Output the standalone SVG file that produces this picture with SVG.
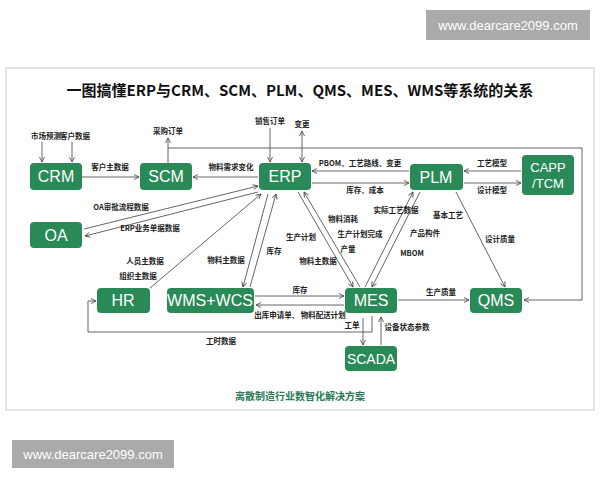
<svg xmlns="http://www.w3.org/2000/svg" width="600" height="480" viewBox="0 0 600 480">
<defs>
<marker id="a" viewBox="0 0 10 10" refX="9" refY="5" markerWidth="7" markerHeight="7" orient="auto-start-reverse"><path d="M1,1 L9,5 L1,9" fill="none" stroke="#444" stroke-width="1.3"/></marker>
<style>
.n rect{fill:#2a8a57}
.n text{fill:#fff;font-family:"Liberation Sans",Arial,sans-serif;font-size:16px;text-anchor:middle}
.c path,.c line{stroke:#555;stroke-width:0.9;fill:none}
.ar{marker-end:url(#a)}
.bi{marker-end:url(#a);marker-start:url(#a)}
.l{font-family:"Noto Sans CJK SC","Liberation Sans",sans-serif;font-size:7.5px;fill:#222;text-anchor:middle;font-weight:bold}
</style>
</defs>
<rect width="600" height="480" fill="#fff"/>
<rect x="426" y="10" width="164" height="30" fill="#aaa"/>
<text x="508" y="30" font-family="Liberation Sans,sans-serif" font-size="13" fill="#fff" text-anchor="middle">www.dearcare2099.com</text>
<rect x="6" y="68" width="588" height="342" fill="#fff" stroke="#ccc"/>
<text x="300" y="96" font-family="Noto Sans CJK SC,sans-serif" font-size="15" font-weight="bold" text-anchor="middle" fill="#111">一图搞懂ERP与CRM、SCM、PLM、QMS、MES、WMS等系统的关系</text>
<text x="300" y="400" font-family="Noto Sans CJK SC,sans-serif" font-size="10" font-weight="bold" text-anchor="middle" fill="#2a7a55">离散制造行业数智化解决方案</text>
<rect x="12" y="440" width="162" height="28" fill="#aaa"/>
<text x="93" y="459" font-family="Liberation Sans,sans-serif" font-size="13" fill="#fff" text-anchor="middle">www.dearcare2099.com</text>

<g class="c">
<line class="ar" x1="42" y1="142" x2="42" y2="162"/>
<line class="ar" x1="72" y1="142" x2="72" y2="162"/>
<line class="ar" x1="82" y1="177" x2="139" y2="177"/>
<line class="ar" x1="168" y1="163" x2="168" y2="138"/>
<line class="ar" x1="258" y1="177" x2="193" y2="177"/>
<line class="ar" x1="270" y1="128" x2="270" y2="162"/>
<line class="bi" x1="302" y1="131" x2="302" y2="162"/>
<path class="ar" d="M168,148 H582 V300 H524"/>
<line class="ar" x1="409" y1="171" x2="312" y2="171"/>
<line class="ar" x1="312" y1="183" x2="409" y2="183"/>
<line class="ar" x1="521" y1="171" x2="464" y2="171"/>
<line class="ar" x1="464" y1="183" x2="521" y2="183"/>
<line class="ar" x1="84" y1="229" x2="258" y2="186"/>
<line class="ar" x1="258" y1="192" x2="85" y2="236"/>
<line class="ar" x1="150" y1="288" x2="261" y2="194"/>
<line class="ar" x1="250" y1="287" x2="276" y2="194"/>
<line class="ar" x1="268" y1="194" x2="243" y2="287"/>
<line class="ar" x1="298" y1="192" x2="353" y2="287"/>
<line class="ar" x1="360" y1="287" x2="304" y2="192"/>
<line class="ar" x1="365" y1="287" x2="413" y2="192"/>
<line class="ar" x1="420" y1="192" x2="372" y2="287"/>
<line class="ar" x1="456" y1="192" x2="505" y2="287"/>
<line class="ar" x1="255" y1="296" x2="344" y2="296"/>
<line class="ar" x1="344" y1="305" x2="256" y2="305"/>
<line class="ar" x1="398" y1="300" x2="469" y2="300"/>
<line class="ar" x1="363" y1="318" x2="363" y2="345"/>
<line class="ar" x1="381" y1="345" x2="381" y2="317"/>
<path class="ar" d="M372,316 V332 H88 V301 H96"/>
</g>

<g class="labels">
<text class="l" x="46" y="139">市场预测</text>
<text class="l" x="75" y="139">客户数据</text>
<text class="l" x="110" y="170">客户主数据</text>
<text class="l" x="168" y="134">采购订单</text>
<text class="l" x="231" y="170">物料需求变化</text>
<text class="l" x="270" y="124">销售订单</text>
<text class="l" x="302" y="127">变更</text>
<text class="l" x="360" y="166">PBOM、工艺路线、变更</text>
<text class="l" x="365" y="193">库存、成本</text>
<text class="l" x="492" y="166">工艺模型</text>
<text class="l" x="492" y="193">设计模型</text>
<text class="l" x="121" y="210">OA审批流程数据</text>
<text class="l" x="150" y="231">ERP业务单据数据</text>
<text class="l" x="145" y="264">人员主数据</text>
<text class="l" x="138" y="279">组织主数据</text>
<text class="l" x="226" y="263">物料主数据</text>
<text class="l" x="274" y="254">库存</text>
<text class="l" x="301" y="240">生产计划</text>
<text class="l" x="318" y="264">物料主数据</text>
<text class="l" x="343" y="222">物料消耗</text>
<text class="l" x="360" y="237">生产计划完成</text>
<text class="l" x="348" y="252">产量</text>
<text class="l" x="396" y="213">实际工艺数据</text>
<text class="l" x="448" y="218">基本工艺</text>
<text class="l" x="425" y="236">产品构件</text>
<text class="l" x="412" y="256">MBOM</text>
<text class="l" x="500" y="242">设计质量</text>
<text class="l" x="300" y="293">库存</text>
<text class="l" x="300" y="318">出库申请单、 物料配送计划</text>
<text class="l" x="441" y="295">生产质量</text>
<text class="l" x="352" y="328">工单</text>
<text class="l" x="407" y="330">设备状态参数</text>
<text class="l" x="221" y="344">工时数据</text>
</g>

<g id="CRM" class="n"><rect x="30" y="163" width="52" height="27" rx="4"/><text x="56" y="182">CRM</text></g>
<g id="SCM" class="n"><rect x="140" y="163" width="52" height="27" rx="4"/><text x="166" y="182">SCM</text></g>
<g id="ERP" class="n"><rect x="259" y="163" width="52" height="27" rx="4"/><text x="285" y="182">ERP</text></g>
<g id="PLM" class="n"><rect x="410" y="164" width="53" height="26" rx="4"/><text x="436" y="183">PLM</text></g>
<g id="CAPP" class="n"><rect x="522" y="155" width="52" height="40" rx="4"/><text x="548" y="172" style="font-size:13px">CAPP</text><text x="548" y="188" style="font-size:13px">/TCM</text></g>
<g id="OA" class="n"><rect x="30" y="222" width="52" height="26" rx="4"/><text x="56" y="241">OA</text></g>
<g id="HR" class="n"><rect x="97" y="288" width="53" height="25" rx="4"/><text x="123" y="306">HR</text></g>
<g id="WMS" class="n"><rect x="167" y="288" width="87" height="25" rx="4"/><text x="210" y="306">WMS+WCS</text></g>
<g id="MES" class="n"><rect x="345" y="288" width="52" height="25" rx="4"/><text x="371" y="306">MES</text></g>
<g id="QMS" class="n"><rect x="470" y="288" width="52" height="25" rx="4"/><text x="496" y="306">QMS</text></g>
<g id="SCADA" class="n"><rect x="345" y="346" width="52" height="25" rx="4"/><text x="371" y="364" style="font-size:14px">SCADA</text></g>
</svg>
